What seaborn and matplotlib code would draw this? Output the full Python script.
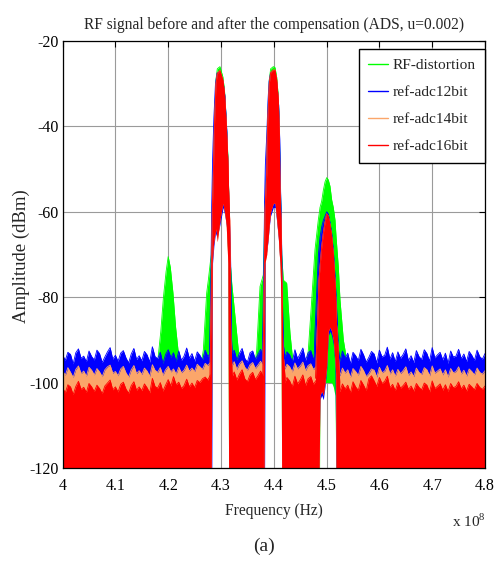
import numpy as np
import pandas as pd
import matplotlib
matplotlib.use("Agg")
import matplotlib.pyplot as plt
from matplotlib.lines import Line2D
import seaborn as sns

# ---------------------------------------------------------------- series
SERIES = ["RF-distortion", "ref-adc12bit", "ref-adc14bit", "ref-adc16bit"]
COLORS = ["#00FF00", "#0000FF", "#FBA66A", "#FF0000"]

X_TICKS = [4.0, 4.1, 4.2, 4.3, 4.4, 4.5, 4.6, 4.7, 4.8]
X_TICK_LABELS = ["4", "4.1", "4.2", "4.3", "4.4", "4.5", "4.6", "4.7", "4.8"]
Y_TICKS = [-120, -100, -80, -60, -40, -20]
FLOOR_DB = -125  # spectrum samples below the visible range

# frequency grids of the noise-floor stretches (x 1e8 Hz)
FLOOR_A = np.linspace(4.00, 4.28, 57)
FLOOR_B = np.linspace(4.32, 4.38, 13)
FLOOR_C = np.linspace(4.42, 4.48, 13)
FLOOR_D = np.linspace(4.52, 4.80, 57)

# noise-floor tops (dBm)
ADC12_A = [-93.5, -94.8, -92.9, -93.4, -95.6, -93.0, -92.1, -94.3, -93.8, -95.1,
           -92.6, -93.9, -94.7, -92.4, -93.2, -95.3, -94.0, -92.8, -91.8, -94.5,
           -93.6, -95.0, -93.1, -92.5, -94.2, -95.4, -93.3, -92.0, -94.6, -93.7,
           -94.9, -92.7, -93.5, -95.2, -91.6, -93.9, -94.4, -92.9, -95.5, -93.4,
           -92.3, -94.1, -93.0, -95.1, -92.6, -94.8, -93.8, -91.9, -94.3, -93.2,
           -95.0, -92.8, -93.6, -94.7, -92.4, -93.9, -93.1]
ADC12_B = [-93.6, -92.4, -94.7, -93.1, -92.0, -94.3, -95.2, -93.0, -92.6, -94.5,
           -93.4, -92.2, -94.0]
ADC12_C = [-94.1, -92.8, -93.5, -95.1, -92.3, -94.4, -93.2, -91.9, -94.8, -93.0,
           -92.5, -94.6, -93.3]
ADC12_D = [-93.8, -95.0, -92.6, -94.2, -93.1, -95.6, -92.9, -93.7, -94.8, -92.2,
           -93.5, -95.2, -94.1, -92.7, -93.3, -95.4, -92.4, -94.0, -93.6, -91.7,
           -94.5, -93.0, -95.1, -92.8, -94.3, -93.4, -92.1, -94.9, -93.7, -95.3,
           -92.5, -93.9, -94.6, -92.3, -93.2, -95.0, -91.8, -94.2, -93.5, -92.9,
           -94.7, -93.1, -95.5, -92.6, -94.0, -93.8, -92.2, -94.4, -93.3, -95.1,
           -92.7, -93.6, -94.8, -92.4, -93.9, -94.5, -93.2]

ADC14_A = [-97.2, -98.3, -96.5, -97.6, -98.8, -96.9, -96.1, -97.9, -97.3, -98.5,
           -96.4, -97.1, -98.2, -96.7, -97.5, -98.6, -97.0, -96.3, -95.9, -97.8,
           -97.4, -98.4, -96.8, -96.2, -97.7, -98.7, -97.0, -96.0, -97.9, -97.2,
           -98.1, -96.6, -97.3, -98.5, -95.8, -97.1, -97.6, -96.5, -98.3, -97.0,
           -96.2, -97.5, -96.8, -98.0, -96.4, -97.7, -97.1, -95.9, -97.3, -96.6,
           -97.4, -95.7, -96.3, -96.9, -95.5, -96.0, -95.3]
ADC14_B = [-96.3, -95.1, -96.9, -95.6, -94.9, -96.4, -97.1, -95.8, -95.3, -96.7,
           -95.9, -95.0, -96.2]
ADC14_C = [-96.9, -95.7, -96.3, -97.5, -95.4, -96.8, -96.1, -95.2, -97.2, -96.0,
           -95.6, -96.9, -96.3]
ADC14_D = [-97.3, -98.4, -96.6, -97.8, -97.0, -98.8, -96.7, -97.4, -98.3, -96.2,
           -97.2, -98.6, -97.9, -96.8, -97.1, -98.7, -96.4, -97.7, -97.3, -96.0,
           -98.0, -97.0, -98.5, -96.9, -97.9, -97.2, -96.3, -98.3, -97.5, -98.6,
           -96.6, -97.6, -98.1, -96.5, -97.0, -98.4, -96.1, -97.8, -97.3, -96.8,
           -98.2, -97.0, -98.7, -96.7, -97.7, -97.4, -96.3, -98.0, -97.1, -98.5,
           -96.8, -97.4, -98.2, -96.6, -97.6, -98.0, -97.2]

ADC16_A = [-101.2, -102.4, -100.5, -101.0, -102.8, -100.9, -99.7, -101.6, -101.1, -102.3,
           -100.2, -101.0, -102.1, -100.6, -101.4, -102.6, -100.8, -100.1, -99.4, -101.7,
           -101.0, -102.2, -100.4, -99.9, -101.5, -102.5, -100.7, -99.8, -101.8, -101.0,
           -101.9, -100.3, -101.2, -102.4, -99.0, -100.9, -101.3, -100.0, -102.0, -100.6,
           -99.3, -100.8, -98.6, -100.5, -99.9, -101.4, -100.7, -99.2, -101.0, -100.1,
           -101.2, -99.5, -100.0, -99.1, -98.7, -99.4, -98.2]
ADC16_B = [-98.9, -97.5, -99.4, -98.0, -97.0, -99.1, -99.8, -98.2, -97.6, -99.3,
           -98.4, -97.3, -98.6]
ADC16_C = [-100.2, -98.8, -99.6, -101.0, -98.5, -100.3, -99.4, -98.2, -100.7, -99.1,
           -98.6, -100.4, -99.5]
ADC16_D = [-100.9, -102.1, -100.3, -101.5, -100.6, -102.4, -99.8, -101.0, -101.8, -99.5,
           -100.6, -101.9, -99.1, -98.4, -99.6, -100.9, -98.8, -100.2, -99.7, -98.5,
           -101.2, -100.4, -101.9, -100.0, -101.3, -100.7, -99.9, -101.6, -100.8, -102.0,
           -100.2, -101.1, -101.7, -100.1, -100.6, -102.2, -99.6, -101.4, -100.9, -100.3,
           -101.8, -100.5, -102.1, -100.2, -101.2, -100.9, -99.8, -101.5, -100.6, -102.0,
           -100.4, -101.0, -101.7, -100.2, -101.1, -101.6, -100.8]

# ---------------------------------------------------------------- carriers
# RF-distortion (upper / lower envelope of the dense spectrum)
RF_42_F = [4.181, 4.186, 4.191, 4.196, 4.200, 4.204, 4.209, 4.214, 4.220]
RF_42_TOP = [-94, -88, -80, -74, -70.5, -73, -79, -87, -94]

RF_43_F = [4.262, 4.2665, 4.2729, 4.276, 4.2815, 4.2835, 4.2855, 4.2875, 4.2905, 4.293,
           4.298, 4.3035, 4.3066, 4.3098, 4.313, 4.3145, 4.3165, 4.3203, 4.3297, 4.3328, 4.336]
RF_43_TOP = [-96, -92.4, -79, -76, -70, -58, -49.5, -39, -29, -26.5,
             -26, -28.4, -31.5, -38.5, -47, -55, -70, -76.7, -88.5, -92.4, -96]
RF_43_BOT = [-125, -125, -125, -125, -125, -71, -67, -65, -63, -66,
             -61, -57, -59, -62, -71, -125, -125, -125, -125, -125, -125]

RF_44_F = [4.364, 4.3676, 4.3739, 4.3801, 4.3815, 4.3833, 4.3866, 4.3877, 4.3896, 4.3915,
           4.3941, 4.3991, 4.4023, 4.4055, 4.4085, 4.4104, 4.4117, 4.4135, 4.415, 4.418,
           4.4244, 4.4307, 4.4339, 4.437]
RF_44_TOP = [-96, -92.4, -77.5, -74.8, -68, -58, -50, -40.5, -34.5, -29,
             -26.5, -26, -26.2, -28.5, -33, -40.5, -50, -60, -70, -76,
             -76.7, -88.5, -92.4, -96]
RF_44_BOT = [-125, -125, -125, -125, -125, -71, -69, -67, -65, -62,
             -59, -57, -57, -61, -65, -69, -71, -79, -125, -125,
             -125, -125, -125, -125]

RF_45_F = [4.462, 4.4654, 4.4718, 4.478, 4.4843, 4.4865, 4.4875, 4.4907, 4.4938, 4.497,
           4.5002, 4.5032, 4.5064, 4.5096, 4.5127, 4.5159, 4.518, 4.5222, 4.5254, 4.5317,
           4.5349, 4.538]
RF_45_TOP = [-96, -92.4, -80.7, -68.9, -61.9, -60, -59, -57.5, -55, -53,
             -52, -52.5, -54, -57.2, -59, -61.9, -66, -72.9, -80.7, -90,
             -92.4, -96]
RF_45_BOT = [-125, -125, -125, -125, -125, -125, -102, -101, -102, -100,
             -100, -100, -100, -100, -101, -103, -125, -125, -125, -125,
             -125, -125]

# ref-adc12bit
A12_43_F = [4.278, 4.2805, 4.2825, 4.2840, 4.2865, 4.2895, 4.2925, 4.298, 4.304, 4.3075,
            4.311, 4.3135, 4.315, 4.318, 4.320, 4.322]
A12_43_TOP = [-95, -78, -58, -48, -38, -30, -27.5, -27.2, -29.5, -33,
              -41, -50, -58, -70, -90, -95]
A12_43_BOT = [-125, -125, -125, -72, -68, -65, -66, -63, -59, -61,
              -64, -72, -125, -125, -125, -125]

A12_44_F = [4.378, 4.3805, 4.3825, 4.3840, 4.3870, 4.3890, 4.3910, 4.3938, 4.3991, 4.4025,
            4.4060, 4.4092, 4.4112, 4.4128, 4.4145, 4.4155, 4.418, 4.422]
A12_44_TOP = [-95, -78, -58, -49, -41, -34, -29.5, -27.5, -27.2, -27.4,
              -30, -35, -43, -55, -65, -75, -91, -95]
A12_44_BOT = [-125, -125, -125, -71, -69, -67, -64, -61, -59, -59,
              -63, -67, -71, -73, -82, -125, -125, -125]

A12_45_F = [4.476, 4.478, 4.4815, 4.4845, 4.4875, 4.4907, 4.4938, 4.4970, 4.5002, 4.5032,
            4.5064, 4.5096, 4.5127, 4.5159, 4.518, 4.5222, 4.526]
A12_45_TOP = [-96, -88, -78, -70, -66, -63.5, -62, -61, -60, -60.5,
              -62.5, -65, -69, -75, -80, -92, -96]
A12_45_BOT = [-125, -125, -125, -125, -104, -103, -104, -101, -97, -89,
              -88, -89, -91, -96, -125, -125, -125]

# ref-adc16bit (the 14-bit carriers lie on the same envelopes)
A16_43_F = [4.279, 4.2815, 4.2835, 4.2855, 4.2875, 4.2905, 4.293, 4.298, 4.3035, 4.3066,
            4.3098, 4.313, 4.3145, 4.3165, 4.3185, 4.3215]
A16_43_TOP = [-99, -80, -60, -51, -40, -30, -27.6, -26.9, -29.1, -32.2,
              -39.3, -48, -55, -62, -90, -99]
A16_43_BOT = [-125, -125, -72, -68, -66, -64, -67, -62, -58, -60,
              -63, -72, -125, -125, -125, -125]

A16_44_F = [4.379, 4.3815, 4.3833, 4.3866, 4.3877, 4.3896, 4.3915, 4.3941, 4.3991, 4.4023,
            4.4055, 4.4085, 4.4104, 4.4117, 4.4135, 4.4150, 4.417, 4.4215]
A16_44_TOP = [-99, -80, -60, -51, -41.6, -35.4, -29.9, -27.4, -26.8, -26.8,
              -29.1, -33.8, -41.6, -55, -62, -75, -92, -99]
A16_44_BOT = [-125, -125, -72, -70, -68, -66, -63, -60, -58, -58,
              -62, -66, -70, -72, -80, -125, -125, -125]

A16_45_F = [4.479, 4.4813, 4.4843, 4.4855, 4.4875, 4.4907, 4.4938, 4.4970, 4.5002, 4.5032,
            4.5064, 4.5096, 4.5127, 4.5159, 4.5172, 4.518, 4.5222, 4.525]
A16_45_TOP = [-99, -90.8, -80.7, -76, -72.9, -68.2, -65, -62.5, -60.5, -61,
              -63, -65.8, -70, -76.7, -80, -84.6, -93, -100]
A16_45_BOT = [-125, -125, -125, -125, -103, -102, -103, -100, -96, -88,
              -87, -88, -90, -95, -98, -125, -125, -125]


def segments(name):
    """(freq, top, bottom) pieces that make up one spectrum trace."""
    if name == "RF-distortion":
        return [(RF_42_F, RF_42_TOP, None), (RF_43_F, RF_43_TOP, RF_43_BOT),
                (RF_44_F, RF_44_TOP, RF_44_BOT), (RF_45_F, RF_45_TOP, RF_45_BOT)]
    if name == "ref-adc12bit":
        floors = [ADC12_A, ADC12_B, ADC12_C, ADC12_D]
        peaks = [(A12_43_F, A12_43_TOP, A12_43_BOT), (A12_44_F, A12_44_TOP, A12_44_BOT),
                 (A12_45_F, A12_45_TOP, A12_45_BOT)]
    elif name == "ref-adc14bit":
        floors = [ADC14_A, ADC14_B, ADC14_C, ADC14_D]
        peaks = [(A16_43_F, A16_43_TOP, A16_43_BOT), (A16_44_F, A16_44_TOP, A16_44_BOT),
                 (A16_45_F, A16_45_TOP, A16_45_BOT)]
    else:
        floors = [ADC16_A, ADC16_B, ADC16_C, ADC16_D]
        peaks = [(A16_43_F, A16_43_TOP, A16_43_BOT), (A16_44_F, A16_44_TOP, A16_44_BOT),
                 (A16_45_F, A16_45_TOP, A16_45_BOT)]
    grids = [FLOOR_A, FLOOR_B, FLOOR_C, FLOOR_D]
    return [(g, f, None) for g, f in zip(grids, floors)] + peaks


# long-form table of every trace piece
rows = []
for name in SERIES:
    for k, (f, top, bot) in enumerate(segments(name)):
        bot = [FLOOR_DB] * len(f) if bot is None else bot
        for fi, ti, bi in zip(f, top, bot):
            rows.append(dict(series=name, piece=k, freq=fi, top=ti, bottom=bi))
df = pd.DataFrame(rows)

# ---------------------------------------------------------------- figure
sns.set_style("white")
plt.rcParams["font.family"] = ["Liberation Serif", "DejaVu Serif"]
plt.rcParams["mathtext.fontset"] = "custom"
plt.rcParams["mathtext.rm"] = "Liberation Serif"
plt.rcParams["axes.unicode_minus"] = False

fig = plt.figure(figsize=(4.96, 5.61), dpi=100)
ax = fig.add_axes([0.1262, 0.1658, 0.8516, 0.7611])

for i, (name, color) in enumerate(zip(SERIES, COLORS)):
    z = 2 + 0.1 * i
    sub = df[df.series == name]
    for _, piece in sub.groupby("piece"):
        ax.fill_between(piece.freq, piece.bottom, piece.top, color=color,
                        lw=0, zorder=z)
    sns.lineplot(data=sub, x="freq", y="top", units="piece", estimator=None,
                 sort=False, color=color, lw=0.6, ax=ax, zorder=z)

ax.set_xlim(4.0, 4.8)
ax.set_ylim(-120, -20)
ax.set_xticks(X_TICKS)
ax.set_xticklabels(X_TICK_LABELS)
ax.set_yticks(Y_TICKS)
ax.set_axisbelow(True)
ax.grid(True, color="#9a9a9a", lw=0.8)
ax.tick_params(direction="in", length=4, width=0.8, top=True, right=True,
               labelsize=11.5, colors="black")
ax.tick_params(axis="x", pad=7)
ax.tick_params(axis="y", pad=3)
for s in ax.spines.values():
    s.set_visible(True)
    s.set_color("black")
    s.set_linewidth(0.9)

ax.set_title("RF signal before and after the compensation (ADS, u=0.002)",
             fontsize=11.2, pad=9)
ax.set_xlabel("Frequency (Hz)", fontsize=11.2, labelpad=7)
ax.set_ylabel("Amplitude (dBm)", fontsize=13.5)
ax.yaxis.set_label_coords(-0.076, 0.496)
fig.text(0.912, 0.056, r"x 10$^{8}$", fontsize=11, ha="left", va="bottom")
fig.text(0.532, 0.010, "(a)", fontsize=14, ha="center", va="bottom")

handles = [Line2D([0], [0], color=c, lw=1.0) for c in COLORS]
leg = ax.legend(handles, SERIES, loc="upper right",
                bbox_to_anchor=(1.0, 1 - 8 / 427), borderaxespad=0,
                fontsize=11.1, frameon=True, fancybox=False, framealpha=1,
                edgecolor="black", handlelength=1.3, handletextpad=0.25,
                labelspacing=0.85, borderpad=0.62)
leg.get_frame().set_linewidth(1.0)
leg.set_zorder(5)

fig.savefig("out.png", dpi=100, facecolor="white")
